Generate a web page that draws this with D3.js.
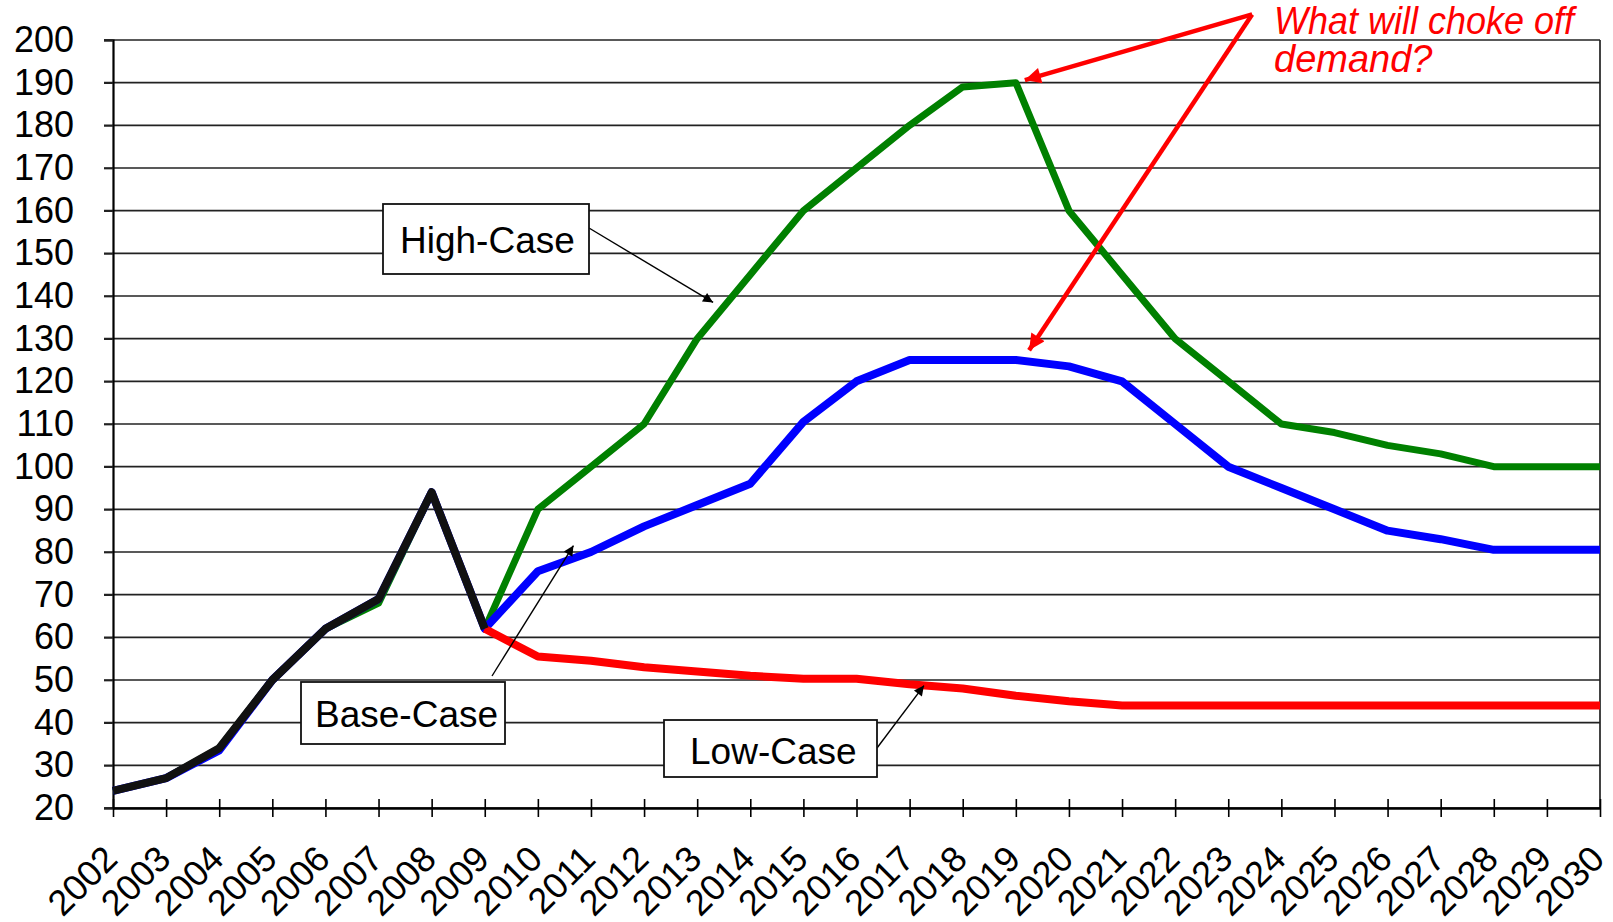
<!DOCTYPE html>
<html>
<head>
<meta charset="utf-8">
<script src="https://cdn.jsdelivr.net/npm/d3@7"></script>
<style>
  body { margin: 0; background: #fff; }
  text { font-family: "Liberation Sans", Arial, sans-serif; }
</style>
</head>
<body>
<div id="chart"></div>
<script>
// categories
const years = [2002, 2003, 2004, 2005, 2006, 2007, 2008, 2009, 2010, 2011, 2012, 2013, 2014, 2015,
  2016, 2017, 2018, 2019, 2020, 2021, 2022, 2023, 2024, 2025, 2026, 2027, 2028, 2029, 2030];
const yTicks = [20, 30, 40, 50, 60, 70, 80, 90, 100, 110, 120, 130, 140, 150, 160, 170, 180, 190, 200];

// series (null = no value)
const history = [24, 27, 34, 50, 62, 69, 94, 62, null, null, null, null, null, null,
  null, null, null, null, null, null, null, null, null, null, null, null, null, null, null];
const highCase = [24, 27, 34, 50, 62, 68, 94, 62, 90, 100, 110, 130, 145, 160,
  170, 180, 189, 190, 160, 145, 130, 120, 110, 108, 105, 103, 100, 100, 100];
const baseCase = [24, 27, 33.5, 50, 62, 69, 94, 62, 75.5, 80, 86, 91, 96, 110.5,
  120, 125, 125, 125, 123.5, 120, 110, 100, 95, 90, 85, 83, 80.5, 80.5, 80.5];
const lowCase = [null, null, null, null, null, null, null, 62, 55.5, 54.5, 53, 52, 51, 50.3,
  50.3, 49, 48, 46.3, 45, 44, 44, 44, 44, 44, 44, 44, 44, 44, 44];

// set the dimensions and margins of the graph
const margin = { top: 40, right: 13, bottom: 114, left: 113 },
    width = 1613 - margin.left - margin.right,
    height = 922 - margin.top - margin.bottom;

const svg = d3.select("#chart")
    .append("svg")
    .attr("width", width + margin.left + margin.right)
    .attr("height", height + margin.top + margin.bottom)
    .append("g")
    .attr("transform", `translate(${margin.left},${margin.top})`);

const x = d3.scaleLinear()
    .domain([years[0], years[years.length - 1]])
    .range([0, width]);

const y = d3.scaleLinear()
    .domain([20, 200])
    .range([height, 0]);

// gridlines
svg.append("g")
    .selectAll("line")
    .data(yTicks)
    .join("line")
    .attr("x1", -9)
    .attr("x2", width)
    .attr("y1", d => y(d))
    .attr("y2", d => y(d))
    .attr("stroke", "#222")
    .attr("stroke-width", 1.7);

// right border
svg.append("line")
    .attr("x1", width).attr("x2", width)
    .attr("y1", 0).attr("y2", height)
    .attr("stroke", "#222")
    .attr("stroke-width", 1.7);

// Y axis
const yAxis = svg.append("g")
    .call(d3.axisLeft(y).tickValues(yTicks).tickSize(9).tickPadding(30));
yAxis.select(".domain").attr("stroke", "#000").attr("stroke-width", 2.2);
yAxis.selectAll(".tick line").attr("stroke", "#222").attr("stroke-width", 1.7);
yAxis.selectAll("text")
    .attr("fill", "#000")
    .style("font-size", "36px")
    .style("font-family", "'Liberation Sans', Arial, sans-serif");

// X axis (ticks cross the axis line)
const xAxis = svg.append("g")
    .attr("transform", `translate(0, ${height})`)
    .call(d3.axisBottom(x).tickValues(years).tickFormat(d3.format("d")).tickSize(9).tickSizeOuter(0));
xAxis.select(".domain").attr("stroke", "#000").attr("stroke-width", 2.4);
xAxis.selectAll(".tick line")
    .attr("y1", -9)
    .attr("stroke", "#000").attr("stroke-width", 1.6);
xAxis.selectAll("text")
    .attr("fill", "#000")
    .style("font-size", "36px")
    .style("font-family", "'Liberation Sans', Arial, sans-serif")
    .attr("text-anchor", "end")
    .attr("dy", 0)
    .attr("y", 0)
    .attr("transform", "translate(6,53)rotate(-45)");

// lines
const line = d3.line()
    .defined(d => d.v != null)
    .x(d => x(d.year))
    .y(d => y(d.v));

const series = [
    { values: highCase, color: "#008000", w: 7 },
    { values: baseCase, color: "#0000ff", w: 8 },
    { values: lowCase, color: "#ff0000", w: 8 },
    { values: history, color: "#111111", w: 8 }
];

svg.append("g")
    .selectAll("path")
    .data(series)
    .join("path")
    .attr("d", s => line(years.map((yr, i) => ({ year: yr, v: s.values[i] }))))
    .attr("fill", "none")
    .attr("stroke", s => s.color)
    .attr("stroke-width", s => s.w)
    .attr("stroke-linejoin", "round");

// arrow markers
const defs = svg.append("defs");
defs.append("marker")
    .attr("id", "blackHead")
    .attr("viewBox", "0 0 10 10")
    .attr("refX", 10).attr("refY", 5)
    .attr("markerWidth", 14).attr("markerHeight", 10)
    .attr("markerUnits", "userSpaceOnUse")
    .attr("orient", "auto")
    .append("path")
    .attr("d", "M0,0L10,5L0,10Z")
    .attr("fill", "#000");
defs.append("marker")
    .attr("id", "redHead")
    .attr("viewBox", "0 0 10 10")
    .attr("refX", 10).attr("refY", 5)
    .attr("markerWidth", 24).attr("markerHeight", 16)
    .attr("markerUnits", "userSpaceOnUse")
    .attr("orient", "auto")
    .append("path")
    .attr("d", "M0,0L10,5L0,10Z")
    .attr("fill", "#ff0000");

// callout boxes (pixel positions relative to plot) and arrow tips in data units
const callouts = [
    { label: "High-Case", bx: 270, by: 164, bw: 206, bh: 70, tx: 287, ty: 213, from: [476, 188], tip: [2013.3, 138.5] },
    { label: "Base-Case", bx: 188, by: 642, bw: 204, bh: 62, tx: 202, ty: 687, from: [379, 636], tip: [2010.67, 81.5] },
    { label: "Low-Case", bx: 551, by: 680, bw: 213, bh: 57, tx: 577, ty: 724, from: [764, 708], tip: [2017.27, 48.7] }
];

const cg = svg.append("g").selectAll("g").data(callouts).join("g");
cg.append("line")
    .attr("x1", d => d.from[0]).attr("y1", d => d.from[1])
    .attr("x2", d => x(d.tip[0])).attr("y2", d => y(d.tip[1]))
    .attr("stroke", "#000").attr("stroke-width", 1.4)
    .attr("marker-end", "url(#blackHead)");
cg.append("rect")
    .attr("x", d => d.bx).attr("y", d => d.by)
    .attr("width", d => d.bw).attr("height", d => d.bh)
    .attr("fill", "#fff").attr("stroke", "#111").attr("stroke-width", 1.8);
cg.append("text")
    .attr("x", d => d.tx).attr("y", d => d.ty)
    .attr("fill", "#000")
    .style("font-size", "37px")
    .text(d => d.label);

// red question with arrows
const redOrigin = [2023.45, 206];
const redTips = [[2019.17, 190.6], [2019.25, 127.3]];
svg.append("g")
    .selectAll("line")
    .data(redTips)
    .join("line")
    .attr("x1", x(redOrigin[0])).attr("y1", y(redOrigin[1]))
    .attr("x2", d => x(d[0])).attr("y2", d => y(d[1]))
    .attr("stroke", "#ff0000").attr("stroke-width", 4.5)
    .attr("marker-end", "url(#redHead)");

const q = svg.append("text")
    .attr("fill", "#ff0000")
    .style("font-size", "38px")
    .style("font-style", "italic");
q.append("tspan").attr("x", 1161).attr("y", -6)
    .attr("textLength", 300).attr("lengthAdjust", "spacingAndGlyphs")
    .text("What will choke off");
q.append("tspan").attr("x", 1161).attr("y", 32).text("demand?");
</script>
</body>
</html>
